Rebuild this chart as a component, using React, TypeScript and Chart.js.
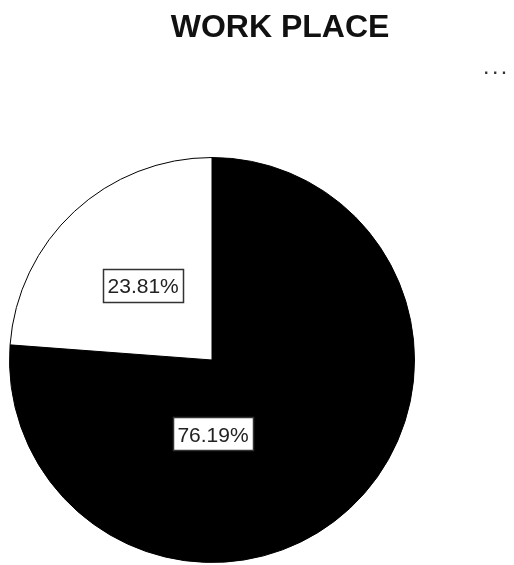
import React, { useEffect, useRef } from "react";
import { Chart, registerables } from "chart.js";

Chart.register(...registerables);

const chartTitle = "WORK PLACE";
const categories = ["Group 1", "Group 2"];
const shareValues = [76.19, 23.81];
const sliceColors = ["#000000", "#ffffff"];
const valueLabels = ["76.19%", "23.81%"];

const overlayPlugin = {
  id: "overlay",
  afterDatasetsDraw(chart: any) {
    const ctx = chart.ctx;
    const meta = chart.getDatasetMeta(0);
    ctx.save();
    ctx.font = '21px "Liberation Sans", Arial, sans-serif';
    meta.data.forEach((arc: any, i: number) => {
      const { x, y, startAngle, endAngle, outerRadius } = arc.getProps(
        ["x", "y", "startAngle", "endAngle", "outerRadius"],
        true
      );
      let lx: number, ly: number;
      if (i === 0) {
        lx = x + 1;
        ly = y + outerRadius * 0.366;
      } else {
        const mid = (startAngle + endAngle) / 2;
        lx = x + Math.cos(mid) * outerRadius * 0.5;
        ly = y + Math.sin(mid) * outerRadius * 0.5;
      }
      const text = valueLabels[i];
      const tw = ctx.measureText(text).width;
      const bw = Math.round(tw + 10);
      const bh = 34;
      const bx = Math.round(lx - bw / 2);
      const by = Math.round(ly - bh / 2);
      ctx.fillStyle = "#ffffff";
      ctx.fillRect(bx, by, bw, bh);
      ctx.strokeStyle = "#333333";
      ctx.lineWidth = 1.5;
      ctx.strokeRect(bx + 0.5, by + 0.5, bw - 1, bh - 1);
      ctx.fillStyle = "#222222";
      ctx.textAlign = "center";
      ctx.textBaseline = "alphabetic";
      ctx.fillText(text, lx, ly + 7.5);
    });
    ctx.fillStyle = "#111111";
    ctx.font = 'bold 32px "Liberation Sans", Arial, sans-serif';
    ctx.textAlign = "center";
    ctx.textBaseline = "alphabetic";
    ctx.fillText(chartTitle, 280, 37);
    ctx.fillStyle = "#333333";
    ctx.font = 'bold 16px "Liberation Sans", Arial, sans-serif';
    ctx.textAlign = "left";
    ctx.fillText(". . .", 484, 74);
    ctx.restore();
  },
};

export default function App() {
  const ref = useRef<HTMLCanvasElement | null>(null);
  useEffect(() => {
    document.body.style.margin = "0";
    const canvas = ref.current;
    if (!canvas) return;
    const chart = new Chart(canvas, {
      type: "pie",
      data: {
        labels: categories,
        datasets: [
          {
            data: shareValues,
            backgroundColor: sliceColors,
            borderColor: "#000000",
            borderWidth: 1,
          },
        ],
      },
      options: {
        animation: false,
        responsive: false,
        layout: { padding: { left: 9, right: 99, top: 157, bottom: 2 } },
        plugins: {
          legend: { display: false },
          title: { display: false },
          tooltip: { enabled: false },
        },
      },
      plugins: [overlayPlugin],
    });
    return () => chart.destroy();
  }, []);
  return (
    <div style={{ position: "absolute", left: 0, top: 0, width: 514, height: 565, background: "#fff" }}>
      <canvas ref={ref} width={514} height={565} />
    </div>
  );
}
